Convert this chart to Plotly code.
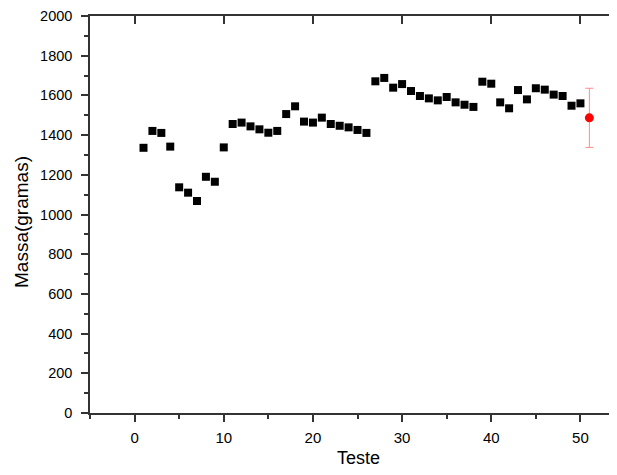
import plotly.graph_objects as go

teste = list(range(1, 51))
massa = [1336, 1421, 1411, 1342, 1137, 1110, 1068, 1190, 1165, 1338,
         1456, 1463, 1444, 1429, 1412, 1421, 1506, 1545, 1468, 1463,
         1488, 1456, 1447, 1439, 1426, 1411, 1671, 1688, 1639, 1657,
         1622, 1597, 1585, 1575, 1592, 1565, 1553, 1542, 1669, 1659,
         1565, 1535, 1627, 1580, 1636, 1629, 1604, 1597, 1548, 1560]
media_x = [51]
media_y = [1487]
media_err = [149]

x_range = [-5, 54.1]
y_range = [0, 2000]
font_family = "Liberation Sans, Arial, sans-serif"

# page body has an 8px default margin, so the figure is sized to fit inside
W, H = 609, 467
ML, MR, MT, MB = 82, 0, 8, 62
plot_w = W - ML - MR
plot_h = H - MT - MB

fig = go.Figure()
fig.add_trace(go.Scatter(x=teste, y=massa, mode="markers",
                         marker=dict(symbol="square", size=8, color="black"),
                         showlegend=False))
fig.add_trace(go.Scatter(x=media_x, y=media_y, mode="markers",
                         marker=dict(symbol="circle", size=9, color="red"),
                         error_y=dict(type="data", array=media_err, visible=True,
                                      color="#ff8c8c", thickness=1, width=4),
                         showlegend=False))
# invisible trace to activate top axis with inward ticks
fig.add_trace(go.Scatter(x=[None], y=[None], xaxis="x2", showlegend=False))

fig.update_layout(
    width=W, height=H,
    margin=dict(l=ML, r=MR, t=MT, b=MB, autoexpand=False),
    plot_bgcolor="white", paper_bgcolor="white",
    font=dict(family=font_family, size=14, color="black"),
    xaxis=dict(range=x_range, showgrid=False, zeroline=False, automargin=False,
               showline=True, linecolor="#333", linewidth=1.5, mirror=True,
               tickmode="linear", tick0=0, dtick=10,
               ticks="outside", ticklen=7, tickwidth=1.5, tickcolor="#333",
               minor=dict(dtick=5, tick0=0, ticks="outside", ticklen=4, tickwidth=1.5, tickcolor="#333"),
               tickfont=dict(size=15), ticklabelstandoff=3),
    xaxis2=dict(range=x_range, overlaying="x", side="top", anchor="y", automargin=False,
                showgrid=False, zeroline=False, showline=False,
                tickmode="linear", tick0=0, dtick=10,
                ticks="inside", ticklen=8, tickwidth=1.5, tickcolor="#333",
                showticklabels=False),
    yaxis=dict(range=y_range, showgrid=False, zeroline=False, automargin=False,
               showline=True, linecolor="#333", linewidth=1.5, mirror=False,
               tickmode="linear", tick0=0, dtick=200,
               ticks="outside", ticklen=7, tickwidth=1.5, tickcolor="#333",
               minor=dict(dtick=100, tick0=0, ticks="outside", ticklen=4, tickwidth=1.5, tickcolor="#333"),
               tickfont=dict(size=14.5), ticklabelstandoff=6),
)
fig.add_annotation(text="Teste", xref="paper", yref="paper",
                   x=(350 - ML) / plot_w, y=-(450 - (H - MB)) / plot_h,
                   showarrow=False, font=dict(size=18), xanchor="center", yanchor="middle")
fig.add_annotation(text="Massa(gramas)", xref="paper", yref="paper",
                   x=-(ML - 13) / plot_w, y=((H - MB) - 214) / plot_h,
                   showarrow=False, font=dict(size=19), textangle=-90,
                   xanchor="center", yanchor="middle")

fig.write_html("out.html")
